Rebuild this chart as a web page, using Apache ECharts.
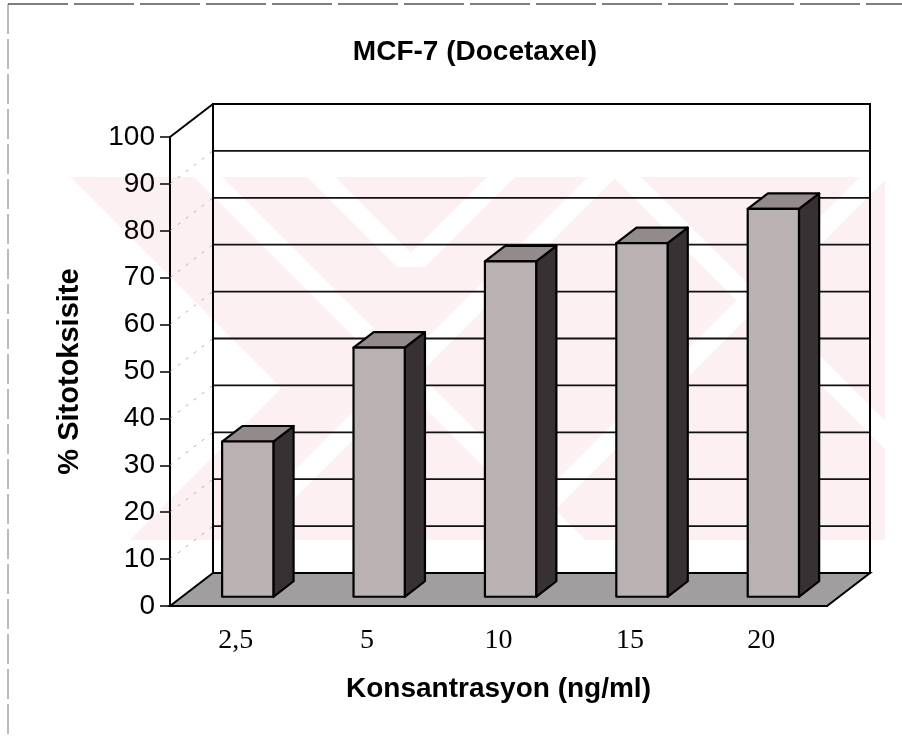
<!DOCTYPE html>
<html>
<head>
<meta charset="utf-8">
<script src="https://cdn.jsdelivr.net/npm/echarts@6/dist/echarts.min.js"></script>
<style>
  html, body { margin: 0; padding: 0; background: #fff; }
  #main { width: 902px; height: 739px; }
</style>
</head>
<body>
<div id="main"></div>
<script>
const categories = ['2,5', '5', '10', '15', '20'];
const sitotoksisite = [33.1, 53.1, 71.5, 75.4, 82.7];
const yTicks = [0, 10, 20, 30, 40, 50, 60, 70, 80, 90, 100];

// 3d look: full depth offset of the back wall, bars sit between F0 and F1
const DX = 43, DY = -33;
const F0 = 0.28, F1 = 0.75;

const mainEl = document.getElementById('main');
const chart = echarts.init(mainEl);

function renderWalls(params, api) {
    const cs = params.coordSys;
    const x0 = cs.x, x1 = cs.x + cs.width;
    const yTop = api.coord([0, 100])[1];
    const yBase = api.coord([0, 0])[1];
    const children = [];
    // faint gridlines on the side wall
    yTicks.forEach((v) => {
        if (v === 0 || v === 100) return;
        const y = api.coord([0, v])[1];
        children.push({
            type: 'line',
            shape: { x1: x0, y1: y, x2: x0 + DX, y2: y + DY },
            style: { stroke: '#9a9a9a', lineWidth: 0.8, lineDash: [3, 7] }
        });
    });
    // gridlines on the back wall
    yTicks.forEach((v) => {
        const y = api.coord([0, v])[1] + DY;
        children.push({
            type: 'line',
            shape: { x1: x0 + DX, y1: y, x2: x1 + DX, y2: y },
            style: { stroke: '#111', lineWidth: 1.8 }
        });
    });
    // floor
    children.push({
        type: 'polygon',
        shape: { points: [[x0, yBase], [x1, yBase], [x1 + DX, yBase + DY], [x0 + DX, yBase + DY]] },
        style: { fill: '#a09e9e', stroke: '#000', lineWidth: 2 }
    });
    // back wall frame
    children.push({
        type: 'rect',
        shape: { x: x0 + DX, y: yTop + DY, width: cs.width, height: yBase - yTop },
        style: { fill: 'none', stroke: '#000', lineWidth: 2 }
    });
    // side wall top edge
    children.push({
        type: 'line',
        shape: { x1: x0, y1: yTop, x2: x0 + DX, y2: yTop + DY },
        style: { stroke: '#000', lineWidth: 2 }
    });
    return { type: 'group', children: children };
}

function renderBar(params, api) {
    const i = api.value(0);
    const v = api.value(1);
    const bandW = api.size([1, 0])[0];
    const c = api.coord([i, v]);
    const b = api.coord([i, 0]);
    const bw = bandW * 0.39;
    const left = c[0] - bw / 2 + F0 * DX;
    const right = left + bw;
    const top = c[1] + F0 * DY;
    const bottom = b[1] + F0 * DY;
    const ddx = (F1 - F0) * DX, ddy = (F1 - F0) * DY;
    const line = { stroke: '#000', lineWidth: 2.2, lineJoin: 'round' };
    return {
        type: 'group',
        children: [
            {
                type: 'polygon',
                shape: { points: [[right, top], [right + ddx, top + ddy], [right + ddx, bottom + ddy], [right, bottom]] },
                style: Object.assign({ fill: '#383133' }, line)
            },
            {
                type: 'polygon',
                shape: { points: [[left, top], [right, top], [right + ddx, top + ddy], [left + ddx, top + ddy]] },
                style: Object.assign({ fill: '#928a8b' }, line)
            },
            {
                type: 'rect',
                shape: { x: left, y: top, width: bw, height: bottom - top },
                style: Object.assign({ fill: '#bab1b2' }, line)
            }
        ]
    };
}

// faint pink watermark behind the chart
const pink = '#fdf0f2';
const wmWhite = [
    [[60, 177], [70, 177], [281, 388], [130, 540], [60, 540]],
    [[194, 177], [222, 177], [585, 540], [557, 540]],
    [[307, 177], [335, 177], [425, 267], [397, 267]],
    [[487, 177], [515, 177], [425, 267], [397, 267]],
    [[588, 177], [616, 177], [253, 540], [225, 540]],
    [[613, 177], [641, 177], [1004, 540], [976, 540]],
    [[860, 177], [888, 177], [525, 540], [497, 540]]
];
const graphics = [
    { type: 'rect', z: -10, shape: { x: 69, y: 177, width: 816, height: 363 }, style: { fill: pink } }
];
wmWhite.forEach((pts) => {
    graphics.push({ type: 'polygon', z: -9, shape: { points: pts }, style: { fill: '#fff' } });
});
graphics.push(
    { type: 'line', z: -8, shape: { x1: 8, y1: 4, x2: 8, y2: 739 }, style: { stroke: '#777', lineWidth: 1, lineDash: [30, 5] } },
    { type: 'line', z: -8, shape: { x1: 8, y1: 4, x2: 902, y2: 4 }, style: { stroke: '#555', lineWidth: 1.5, lineDash: [60, 6] } }
);

const option = {
    animation: false,
    backgroundColor: '#fff',
    title: {
        text: 'MCF-7 (Docetaxel)',
        left: 470,
        top: 33,
        textAlign: 'center',
        textStyle: { fontFamily: 'Liberation Sans', fontWeight: 'bold', fontSize: 28, color: '#000' }
    },
    graphic: graphics,
    grid: { left: 170, top: 137, width: 657, height: 469 },
    xAxis: {
        type: 'category',
        data: categories,
        boundaryGap: true,
        axisLine: { lineStyle: { color: '#000', width: 2 } },
        axisTick: { length: 10, lineStyle: { color: '#000', width: 1.5 } },
        axisLabel: { fontFamily: 'Liberation Serif', fontSize: 28, color: '#000', margin: 21 },
        name: 'Konsantrasyon (ng/ml)',
        nameLocation: 'middle',
        nameGap: 69,
        nameTextStyle: { fontFamily: 'Liberation Sans', fontWeight: 'bold', fontSize: 28, color: '#000' }
    },
    yAxis: {
        type: 'value',
        min: 0,
        max: 100,
        interval: 10,
        axisLine: { show: true, lineStyle: { color: '#000', width: 2 } },
        axisTick: { show: true, length: 10, lineStyle: { color: '#000', width: 1.5 } },
        splitLine: { show: false },
        axisLabel: { fontFamily: 'Liberation Sans', fontSize: 28, color: '#000', margin: 15 },
        name: '% Sitotoksisite',
        nameLocation: 'middle',
        nameGap: 86,
        nameTextStyle: { fontFamily: 'Liberation Sans', fontWeight: 'bold', fontSize: 29, color: '#000' }
    },
    series: [
        {
            type: 'custom',
            name: 'walls',
            silent: true,
            z: 1,
            renderItem: renderWalls,
            data: [[0, 0]]
        },
        {
            type: 'custom',
            name: 'Sitotoksisite',
            z: 3,
            renderItem: renderBar,
            encode: { x: 0, y: 1 },
            data: sitotoksisite.map((v, i) => [i, v])
        }
    ]
};

chart.setOption(option);
</script>
</body>
</html>
